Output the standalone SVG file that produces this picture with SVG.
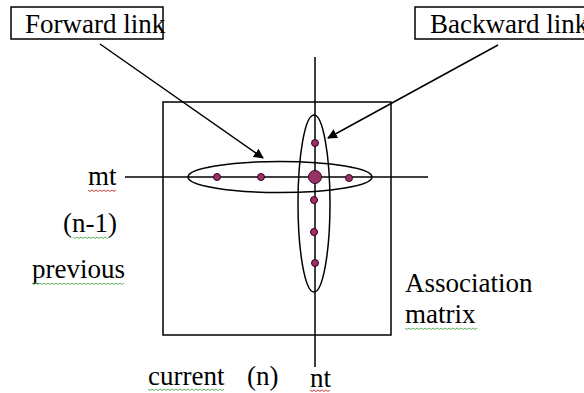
<svg xmlns="http://www.w3.org/2000/svg" width="584" height="393" viewBox="0 0 584 393">
<style>
text{font-family:"Liberation Serif","Times New Roman",serif;font-size:27px;fill:#000}
.ln{stroke:#000;stroke-width:1.5;fill:none}
.dot{fill:#993366;stroke:#330022;stroke-width:1}
.sqr{stroke:#d04040;stroke-width:1;fill:none}
.sqg{stroke:#60b060;stroke-width:1;fill:none}
</style>
<defs>
<marker id="ah" markerWidth="10" markerHeight="10" refX="9" refY="5" orient="auto" markerUnits="userSpaceOnUse" viewBox="0 0 10 10">
<path d="M0,0 L10,5 L0,10 z" fill="#000"/>
</marker>
</defs>
<rect width="584" height="393" fill="#fff"/>
<g id="matrix"><rect x="163" y="102" width="228" height="233" class="ln"/></g>
<g id="axes">
<line x1="125" y1="177" x2="428" y2="177" class="ln"/>
<line x1="315" y1="57" x2="315" y2="367" class="ln"/>
</g>
<g id="ellipses">
<ellipse cx="280" cy="177" rx="92" ry="15.5" class="ln"/>
<ellipse cx="314" cy="203.5" rx="16" ry="88.5" class="ln"/>
</g>
<g id="dots">
<circle cx="217" cy="177" r="3.5" class="dot"/>
<circle cx="261" cy="177" r="3.5" class="dot"/>
<circle cx="349" cy="178" r="3.5" class="dot"/>
<circle cx="315" cy="177" r="6.5" class="dot"/>
<circle cx="315" cy="143" r="3.5" class="dot"/>
<circle cx="314" cy="200" r="3.5" class="dot"/>
<circle cx="314" cy="232" r="3.5" class="dot"/>
<circle cx="315" cy="263" r="3.5" class="dot"/>
</g>
<g id="forward-link">
<rect x="11" y="7" width="152" height="32" class="ln"/>
<text x="25" y="33">Forward link</text>
</g>
<g id="backward-link">
<rect x="415" y="7" width="180" height="32" class="ln"/>
<text x="430" y="33">Backward link</text>
</g>
<g id="connectors">
<line x1="100" y1="44" x2="263" y2="158" class="ln" marker-end="url(#ah)"/>
<line x1="498" y1="45" x2="328" y2="138" class="ln" marker-end="url(#ah)"/>
</g>
<g id="labels">
<text x="88" y="185">mt</text>
<text x="63" y="232">(n-1)</text>
<text x="32" y="278">previous</text>
<text x="148" y="385">current</text>
<text x="247" y="385">(n)</text>
<text x="310" y="387">nt</text>
<text x="405" y="292">Association</text>
<text x="405" y="323">matrix</text>
</g>
<g id="spell-marks">
<path class="sqr" d="M88,190 l2,1.5 l2,-1.5 l2,1.5 l2,-1.5 l2,1.5 l2,-1.5 l2,1.5 l2,-1.5 l2,1.5 l2,-1.5 l2,1.5 l2,-1.5 l2,1.5 l2,-1.5"/>
<path class="sqg" d="M73,237 l2,1.5 l2,-1.5 l2,1.5 l2,-1.5 l2,1.5 l2,-1.5 l2,1.5 l2,-1.5 l2,1.5 l2,-1.5 l2,1.5 l2,-1.5 l2,1.5 l2,-1.5 l2,1.5 l2,-1.5 l2,1.5 l2,-1.5"/>
<path class="sqg" d="M32,283 l2,1.5 l2,-1.5 l2,1.5 l2,-1.5 l2,1.5 l2,-1.5 l2,1.5 l2,-1.5 l2,1.5 l2,-1.5 l2,1.5 l2,-1.5 l2,1.5 l2,-1.5 l2,1.5 l2,-1.5 l2,1.5 l2,-1.5 l2,1.5 l2,-1.5 l2,1.5 l2,-1.5 l2,1.5 l2,-1.5 l2,1.5 l2,-1.5 l2,1.5 l2,-1.5 l2,1.5 l2,-1.5 l2,1.5 l2,-1.5 l2,1.5 l2,-1.5 l2,1.5 l2,-1.5 l2,1.5 l2,-1.5 l2,1.5 l2,-1.5 l2,1.5 l2,-1.5 l2,1.5 l2,-1.5 l2,1.5 l2,-1.5"/>
<path class="sqg" d="M148,389 l2,1.5 l2,-1.5 l2,1.5 l2,-1.5 l2,1.5 l2,-1.5 l2,1.5 l2,-1.5 l2,1.5 l2,-1.5 l2,1.5 l2,-1.5 l2,1.5 l2,-1.5 l2,1.5 l2,-1.5 l2,1.5 l2,-1.5 l2,1.5 l2,-1.5 l2,1.5 l2,-1.5 l2,1.5 l2,-1.5 l2,1.5 l2,-1.5 l2,1.5 l2,-1.5 l2,1.5 l2,-1.5 l2,1.5 l2,-1.5 l2,1.5 l2,-1.5 l2,1.5 l2,-1.5 l2,1.5 l2,-1.5"/>
<path class="sqr" d="M310,390 l2,1.5 l2,-1.5 l2,1.5 l2,-1.5 l2,1.5 l2,-1.5 l2,1.5 l2,-1.5 l2,1.5 l2,-1.5"/>
<path class="sqg" d="M405,328 l2,1.5 l2,-1.5 l2,1.5 l2,-1.5 l2,1.5 l2,-1.5 l2,1.5 l2,-1.5 l2,1.5 l2,-1.5 l2,1.5 l2,-1.5 l2,1.5 l2,-1.5 l2,1.5 l2,-1.5 l2,1.5 l2,-1.5 l2,1.5 l2,-1.5 l2,1.5 l2,-1.5 l2,1.5 l2,-1.5 l2,1.5 l2,-1.5 l2,1.5 l2,-1.5 l2,1.5 l2,-1.5 l2,1.5 l2,-1.5 l2,1.5 l2,-1.5 l2,1.5 l2,-1.5"/>
</g>
</svg>
